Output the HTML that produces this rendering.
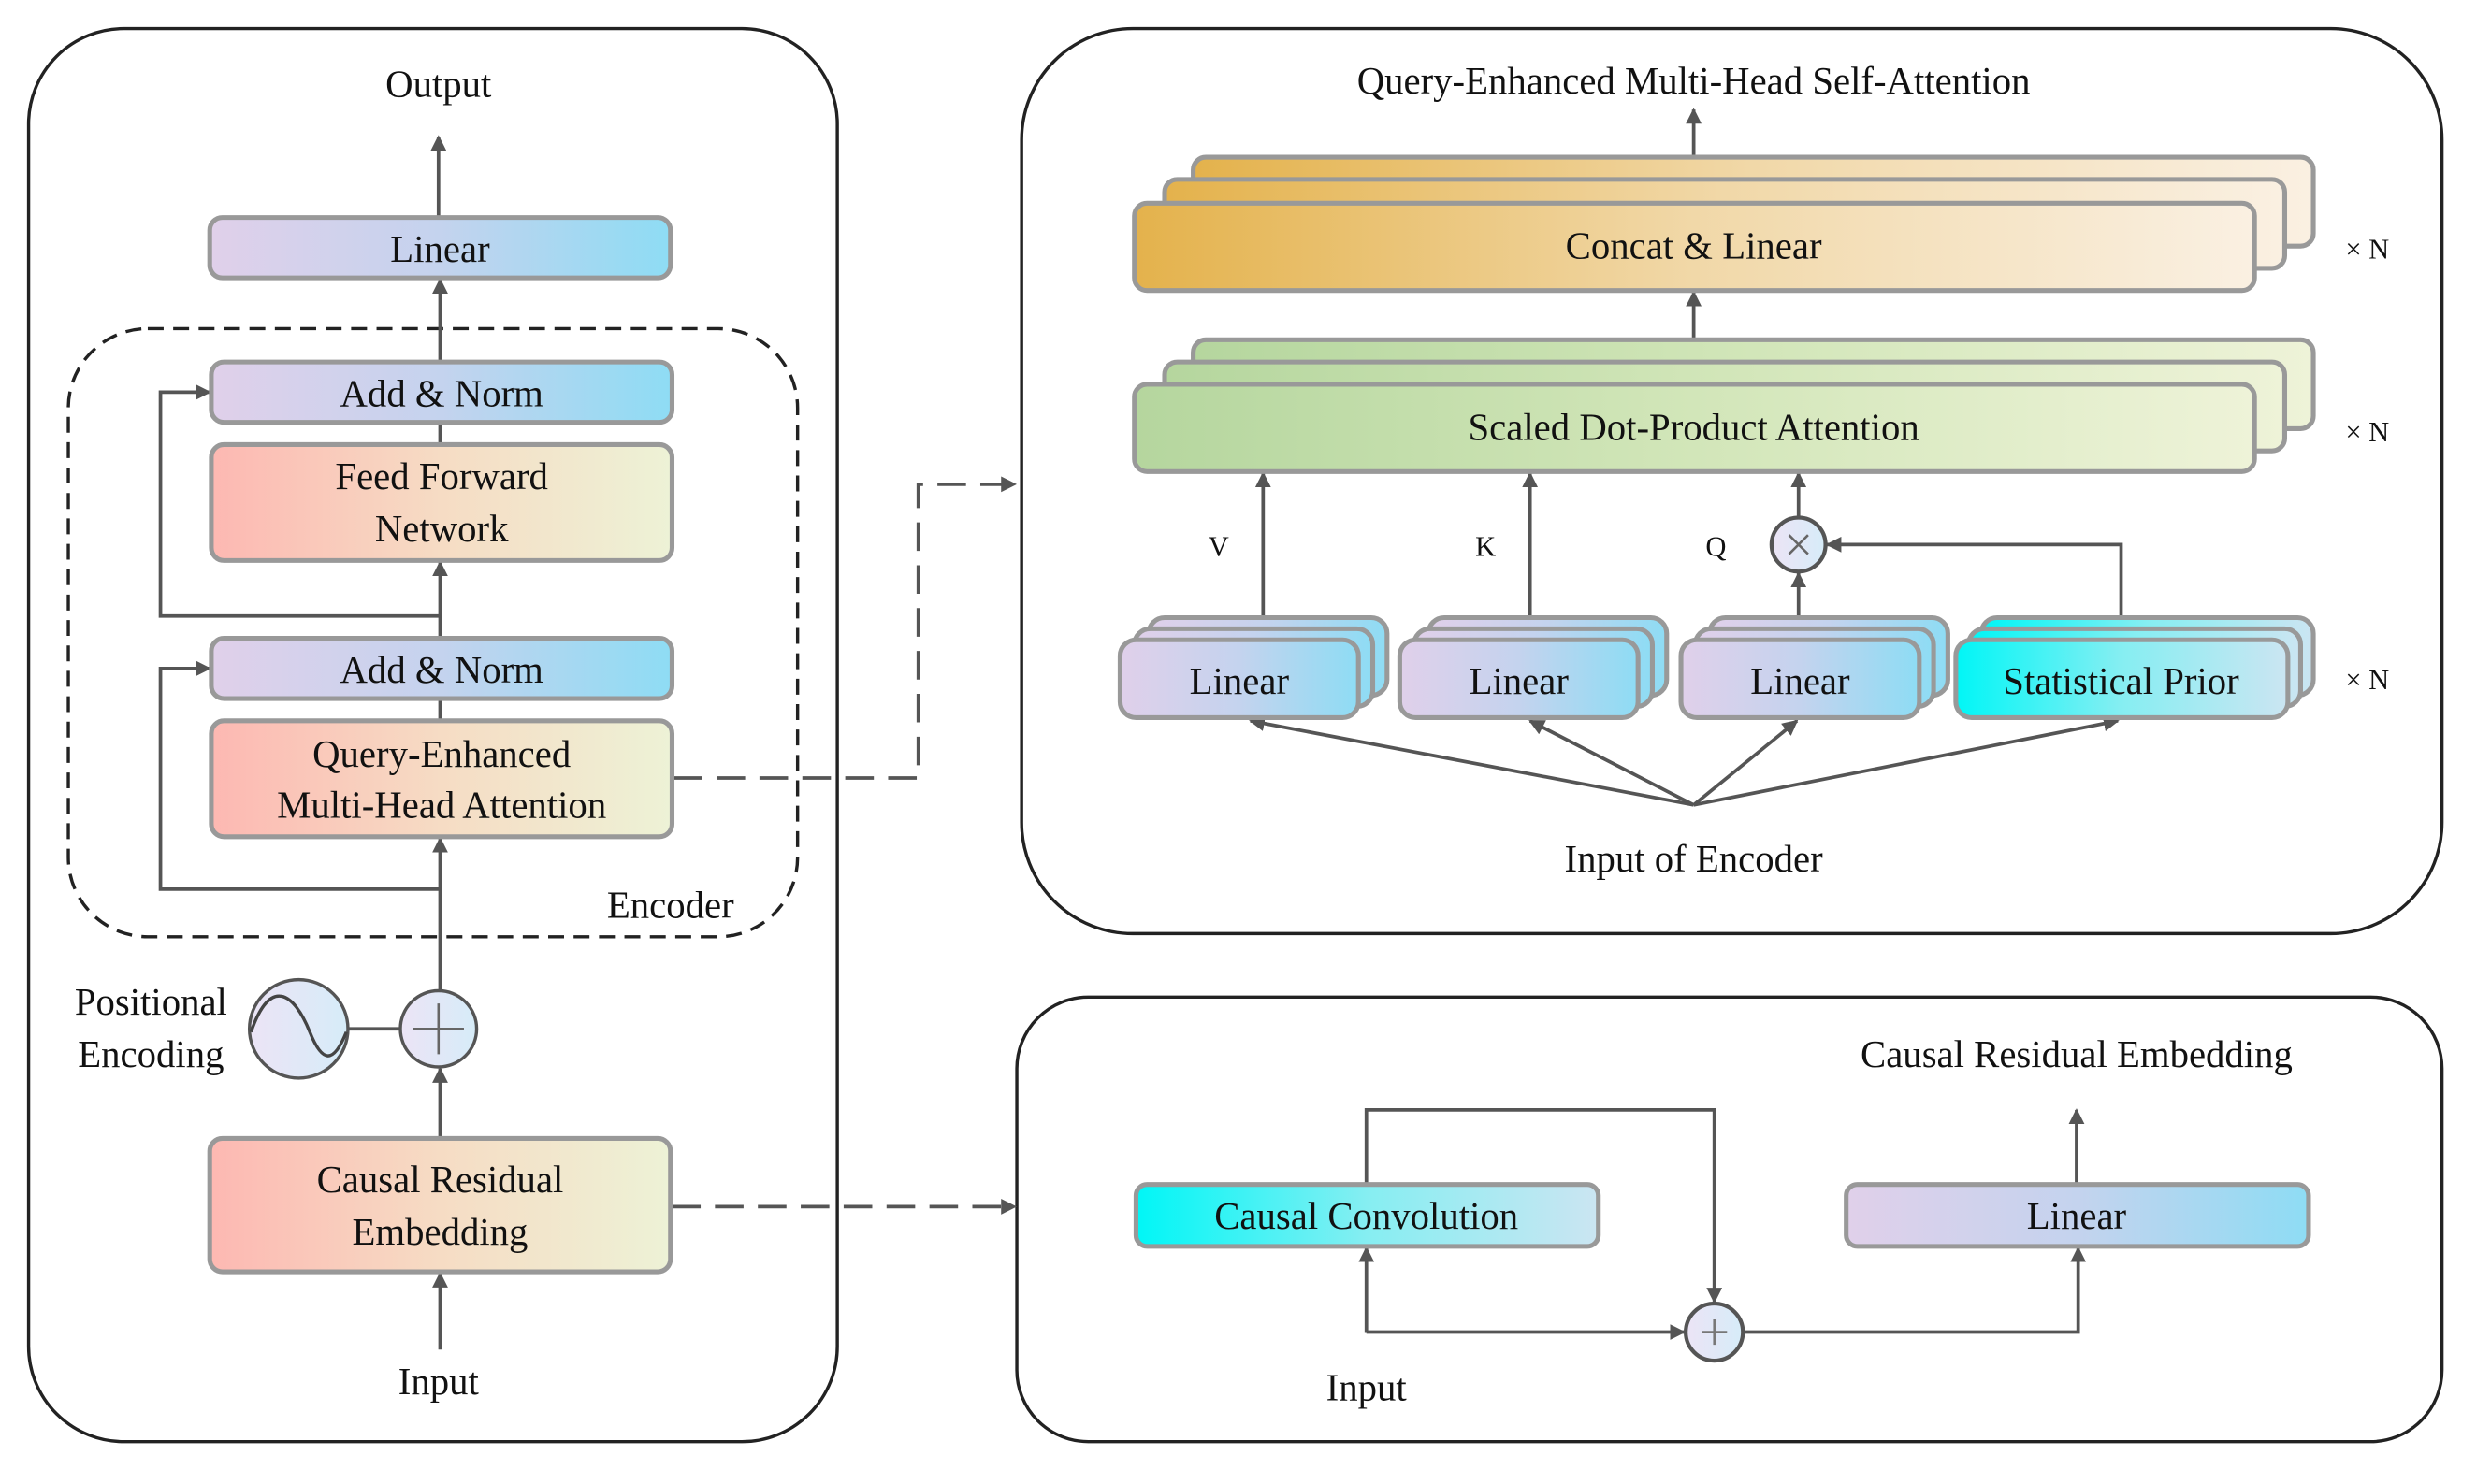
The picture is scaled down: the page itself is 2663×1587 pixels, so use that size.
<!DOCTYPE html>
<html><head><meta charset="utf-8"><style>
html,body{margin:0;padding:0;background:#fff;}
svg{display:block;}
text{font-family:"Liberation Serif","DejaVu Serif",serif;fill:#111;}
</style></head><body>
<svg width="2663" height="1587" viewBox="0 0 1560 930" preserveAspectRatio="none" xmlns="http://www.w3.org/2000/svg" font-family="Liberation Serif, DejaVu Serif, serif">
<defs>
<linearGradient id="pb" x1="0" x2="1"><stop offset="0" stop-color="#e0d0ea"/><stop offset="0.5" stop-color="#c4d3ee"/><stop offset="1" stop-color="#8edcf4"/></linearGradient>
<linearGradient id="ry" x1="0" x2="1"><stop offset="0" stop-color="#fdb8b2"/><stop offset="0.5" stop-color="#f6dcc4"/><stop offset="1" stop-color="#edf2d6"/></linearGradient>
<linearGradient id="or" x1="0" x2="1"><stop offset="0" stop-color="#e4b24c"/><stop offset="0.5" stop-color="#f1d8a8"/><stop offset="1" stop-color="#faf0e2"/></linearGradient>
<linearGradient id="gr" x1="0" x2="1"><stop offset="0" stop-color="#b5d69e"/><stop offset="0.5" stop-color="#d2e6b9"/><stop offset="1" stop-color="#eef3d8"/></linearGradient>
<linearGradient id="cy" x1="0" x2="1"><stop offset="0" stop-color="#00f6f6"/><stop offset="0.5" stop-color="#86eef2"/><stop offset="1" stop-color="#cbe5f2"/></linearGradient>
<linearGradient id="ci" x1="0" x2="1"><stop offset="0" stop-color="#ece4f6"/><stop offset="1" stop-color="#d6ecf8"/></linearGradient>
<marker id="a" viewBox="0 0 10 10" refX="9" refY="5" markerWidth="4.5" markerHeight="4.5" orient="auto-start-reverse"><path d="M0,0L10,5L0,10z" fill="#555"/></marker>
</defs>
<g transform="scale(0.995)">
<g fill="none" stroke="#222" stroke-width="2">
<rect x="18" y="18" width="509" height="890" rx="60"/>
<rect x="643" y="18" width="894" height="570" rx="70"/>
<rect x="640" y="628" width="897" height="280" rx="45"/>
</g>
<rect x="43" y="207" width="459" height="383" rx="50" fill="none" stroke="#222" stroke-width="2" stroke-dasharray="10,6"/>
<g stroke="#555" stroke-width="2.2" fill="none">
<line x1="276" y1="137" x2="276" y2="86" marker-end="url(#a)"/>
<line x1="277" y1="228" x2="277" y2="176" marker-end="url(#a)"/>
<line x1="277" y1="266" x2="277" y2="280"/>
<line x1="277" y1="402" x2="277" y2="354" marker-end="url(#a)"/>
<line x1="277" y1="440" x2="277" y2="454"/>
<line x1="277" y1="624" x2="277" y2="528" marker-end="url(#a)"/>
<line x1="277" y1="717" x2="277" y2="673" marker-end="url(#a)"/>
<line x1="277" y1="850" x2="277" y2="802" marker-end="url(#a)"/>
<polyline points="277,388 101,388 101,247 132,247" marker-end="url(#a)"/>
<polyline points="277,560 101,560 101,421 132,421" marker-end="url(#a)"/>
<line x1="219" y1="648" x2="252" y2="648"/>
<polyline points="424,490 578,490 578,305 639,305" stroke-dasharray="18,9" marker-end="url(#a)"/>
<polyline points="423,760 639,760" stroke-dasharray="18,9" marker-end="url(#a)"/>
</g>
<g stroke="#999" stroke-width="3">
<rect x="132" y="137" width="290" height="38" rx="8" fill="url(#pb)"/>
<rect x="133" y="228" width="290" height="38" rx="8" fill="url(#pb)"/>
<rect x="133" y="280" width="290" height="73" rx="8" fill="url(#ry)"/>
<rect x="133" y="402" width="290" height="38" rx="8" fill="url(#pb)"/>
<rect x="133" y="454" width="290" height="73" rx="8" fill="url(#ry)"/>
<rect x="132" y="717" width="290" height="84" rx="8" fill="url(#ry)"/>
</g>
<circle cx="188" cy="648" r="31" fill="url(#ci)" stroke="#555" stroke-width="2"/>
<path d="M158,650 C170,615 185,625 195,650 C203,670 210,670 218,650" fill="none" stroke="#444" stroke-width="2"/>
<circle cx="276" cy="648" r="24" fill="url(#ci)" stroke="#555" stroke-width="2"/>
<path d="M260,648H292M276,632V664" stroke="#666" stroke-width="1.5"/>
<g font-size="24" text-anchor="middle">
<text x="276" y="61">Output</text>
<text x="277" y="165">Linear</text>
<text x="278" y="256">Add &amp; Norm</text>
<text x="278" y="308">Feed Forward</text>
<text x="278" y="341">Network</text>
<text x="278" y="430">Add &amp; Norm</text>
<text x="278" y="483">Query-Enhanced</text>
<text x="278" y="515">Multi-Head Attention</text>
<text x="422" y="578">Encoder</text>
<text x="95" y="639">Positional</text>
<text x="95" y="672">Encoding</text>
<text x="277" y="751">Causal Residual</text>
<text x="277" y="784">Embedding</text>
<text x="276" y="878">Input</text>
</g>
<g stroke="#555" stroke-width="2.2" fill="none">
<line x1="1066" y1="98" x2="1066" y2="69" marker-end="url(#a)"/>
<line x1="1066" y1="213" x2="1066" y2="184" marker-end="url(#a)"/>
<line x1="795" y1="390" x2="795" y2="298" marker-end="url(#a)"/>
<line x1="963" y1="390" x2="963" y2="298" marker-end="url(#a)"/>
<line x1="1132" y1="326" x2="1132" y2="298" marker-end="url(#a)"/>
<line x1="1132" y1="390" x2="1132" y2="361" marker-end="url(#a)"/>
<polyline points="1335,390 1335,343 1150,343" marker-end="url(#a)"/>
<line x1="1066" y1="507" x2="787" y2="454" marker-end="url(#a)"/>
<line x1="1066" y1="507" x2="963" y2="454" marker-end="url(#a)"/>
<line x1="1066" y1="507" x2="1131" y2="454" marker-end="url(#a)"/>
<line x1="1066" y1="507" x2="1333" y2="454" marker-end="url(#a)"/>
</g>
<g stroke="#999" stroke-width="3">
<rect x="751" y="99" width="705" height="56" rx="8" fill="url(#or)"/>
<rect x="733" y="113" width="705" height="56" rx="8" fill="url(#or)"/>
<rect x="714" y="128" width="705" height="55" rx="8" fill="url(#or)"/>
<rect x="751" y="214" width="705" height="56" rx="8" fill="url(#gr)"/>
<rect x="733" y="228" width="705" height="56" rx="8" fill="url(#gr)"/>
<rect x="714" y="242" width="705" height="55" rx="8" fill="url(#gr)"/>
<rect x="723" y="389" width="150" height="49" rx="10" fill="url(#pb)"/>
<rect x="714" y="396" width="150" height="49" rx="10" fill="url(#pb)"/>
<rect x="705" y="403" width="150" height="49" rx="10" fill="url(#pb)"/>
<rect x="899" y="389" width="150" height="49" rx="10" fill="url(#pb)"/>
<rect x="890" y="396" width="150" height="49" rx="10" fill="url(#pb)"/>
<rect x="881" y="403" width="150" height="49" rx="10" fill="url(#pb)"/>
<rect x="1076" y="389" width="150" height="49" rx="10" fill="url(#pb)"/>
<rect x="1067" y="396" width="150" height="49" rx="10" fill="url(#pb)"/>
<rect x="1058" y="403" width="150" height="49" rx="10" fill="url(#pb)"/>
<rect x="1247" y="389" width="209" height="49" rx="10" fill="url(#cy)"/>
<rect x="1239" y="396" width="209" height="49" rx="10" fill="url(#cy)"/>
<rect x="1231" y="403" width="209" height="49" rx="10" fill="url(#cy)"/>
</g>
<circle cx="1132" cy="343" r="17" fill="url(#ci)" stroke="#555" stroke-width="2.5"/>
<path d="M1126,337L1138,349M1138,337L1126,349" stroke="#666" stroke-width="1.5"/>
<g font-size="24" text-anchor="middle">
<text x="1066" y="59">Query-Enhanced Multi-Head Self-Attention</text>
<text x="1066" y="163">Concat &amp; Linear</text>
<text x="1066" y="277">Scaled Dot-Product Attention</text>
<text x="780" y="437">Linear</text>
<text x="956" y="437">Linear</text>
<text x="1133" y="437">Linear</text>
<text x="1335" y="437">Statistical Prior</text>
<text x="1066" y="549">Input of Encoder</text>
<text x="1307" y="672">Causal Residual Embedding</text>
<text x="860" y="882">Input</text>
</g>
<g font-size="18" text-anchor="middle">
<text x="767" y="350">V</text>
<text x="935" y="350">K</text>
<text x="1080" y="350">Q</text>
<text x="1490" y="163">× N</text>
<text x="1490" y="278">× N</text>
<text x="1490" y="434">× N</text>
</g>
<g stroke="#555" stroke-width="2.2" fill="none">
<line x1="1307" y1="745" x2="1307" y2="699" marker-end="url(#a)"/>
<polyline points="860,746 860,699 1079,699 1079,820" marker-end="url(#a)"/>
<polyline points="860,839 860,786" marker-end="url(#a)"/>
<polyline points="860,839 1060,839" marker-end="url(#a)"/>
<polyline points="1098,839 1308,839 1308,786" marker-end="url(#a)"/>
</g>
<g stroke="#999" stroke-width="3">
<rect x="715" y="746" width="291" height="39" rx="7" fill="url(#cy)"/>
<rect x="1162" y="746" width="291" height="39" rx="7" fill="url(#pb)"/>
</g>
<text x="860" y="774" font-size="24" text-anchor="middle">Causal Convolution</text>
<text x="1307" y="774" font-size="24" text-anchor="middle">Linear</text>
<circle cx="1079" cy="839" r="18" fill="url(#ci)" stroke="#555" stroke-width="2.5"/>
<path d="M1071,839H1087M1079,831V847" stroke="#777" stroke-width="1.5"/>
</g>
</svg>
</body></html>
